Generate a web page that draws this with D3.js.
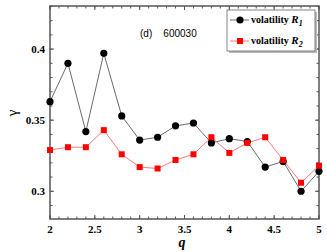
<!DOCTYPE html>
<html>
<head>
<meta charset="utf-8">
<script src="https://cdn.jsdelivr.net/npm/d3@7"></script>
<style>
body { margin: 0; background: #fff; }
</style>
</head>
<body>
<script>
// data
var qValues = [2, 2.2, 2.4, 2.6, 2.8, 3, 3.2, 3.4, 3.6, 3.8, 4, 4.2, 4.4, 4.6, 4.8, 5];
var gammaR1 = [0.363, 0.390, 0.342, 0.397, 0.353, 0.336, 0.338, 0.346, 0.348, 0.334, 0.337, 0.335, 0.317, 0.321, 0.300, 0.314];
var gammaR2 = [0.329, 0.331, 0.331, 0.343, 0.326, 0.317, 0.316, 0.322, 0.326, 0.338, 0.327, 0.334, 0.338, 0.322, 0.306, 0.318];
var xTicks = [2, 2.5, 3, 3.5, 4, 4.5, 5];
var yTicks = [0.3, 0.35, 0.4];
var legendLabels = ["R", "R"];
var legendSubs = ["1", "2"];

var W = 327, H = 252,
    padL = 50, padR = 319, padT = 6, padB = 219;   // plot box edges

var svg = d3.select("body").append("svg")
    .attr("width", W)
    .attr("height", H);

var x = d3.scaleLinear().domain([2, 5]).range([padL, padR]);
var y = d3.scaleLinear().domain([0.2805, 0.4303]).range([padB, padT]);

var frameColor = "#555";
var serif = "'Liberation Serif', 'DejaVu Serif', serif";

// minor + major ticks, pointing inward on all four sides
var xMinor = d3.range(2, 5.001, 0.1);
var yMinor = d3.range(0.29, 0.4301, 0.01);

function tickLines(g, vals, len, side) {
    var horiz = side == "b" || side == "t";
    g.selectAll(null).data(vals).enter().append("line")
        .attr("stroke", frameColor)
        .attr("stroke-width", 1)
        .attr("x1", d => horiz ? x(d) : (side == "l" ? padL : padR))
        .attr("x2", d => horiz ? x(d) : (side == "l" ? padL + len : padR - len))
        .attr("y1", d => !horiz ? y(d) : (side == "b" ? padB : padT))
        .attr("y2", d => !horiz ? y(d) : (side == "b" ? padB - len : padT + len));
}

var gt = svg.append("g");
tickLines(gt, xMinor, 2.5, "b");
tickLines(gt, xMinor, 2.5, "t");
tickLines(gt, xTicks, 4, "b");
tickLines(gt, xTicks, 4, "t");
tickLines(gt, yMinor, 2.5, "l");
tickLines(gt, yMinor, 2.5, "r");
tickLines(gt, yTicks, 4, "l");
tickLines(gt, yTicks, 4, "r");

// frame
svg.append("rect")
    .attr("x", padL).attr("y", padT)
    .attr("width", padR - padL).attr("height", padB - padT)
    .attr("fill", "none")
    .attr("stroke", frameColor)
    .attr("stroke-width", 1.5);

// tick labels
svg.append("g").selectAll("text").data(xTicks).enter().append("text")
    .attr("x", d => x(d))
    .attr("y", padB + 14)
    .attr("text-anchor", "middle")
    .attr("font-family", serif)
    .attr("font-weight", "bold")
    .attr("font-size", 11)
    .text(d => d);

svg.append("g").selectAll("text").data(yTicks).enter().append("text")
    .attr("x", padL - 5)
    .attr("y", d => y(d) + 4)
    .attr("text-anchor", "end")
    .attr("font-family", serif)
    .attr("font-weight", "bold")
    .attr("font-size", 11)
    .text(d => d);

// axis titles
svg.append("text")
    .attr("x", 182).attr("y", 247)
    .attr("text-anchor", "middle")
    .attr("font-family", serif)
    .attr("font-weight", "bold")
    .attr("font-style", "italic")
    .attr("font-size", 14)
    .text("q");

svg.append("text")
    .attr("transform", "translate(17,113) rotate(-90)")
    .attr("text-anchor", "middle")
    .attr("font-family", serif)
    .attr("font-size", 15)
    .text("γ");

// series
var line = d3.line().x((d, i) => x(qValues[i])).y(d => y(d));

svg.append("path").datum(gammaR1)
    .attr("d", line)
    .attr("fill", "none")
    .attr("stroke", "#444")
    .attr("stroke-width", 0.8);

svg.append("path").datum(gammaR2)
    .attr("d", line)
    .attr("fill", "none")
    .attr("stroke", "#f55")
    .attr("stroke-width", 0.8);

svg.append("g").selectAll("circle").data(gammaR1).enter().append("circle")
    .attr("cx", (d, i) => x(qValues[i]))
    .attr("cy", d => y(d))
    .attr("r", 3.6)
    .attr("fill", "#000");

svg.append("g").selectAll("rect").data(gammaR2).enter().append("rect")
    .attr("x", (d, i) => x(qValues[i]) - 3)
    .attr("y", d => y(d) - 3)
    .attr("width", 6).attr("height", 6)
    .attr("fill", "#f00");

// panel label
svg.append("text")
    .attr("x", 140).attr("y", 37)
    .attr("font-family", "'Liberation Sans', Arial, sans-serif")
    .attr("font-size", 10)
    .attr("xml:space", "preserve")
    .text("(d)    600030");

// legend
var lg = svg.append("g");
lg.append("rect")
    .attr("x", 229).attr("y", 12)
    .attr("width", 88).attr("height", 41)
    .attr("fill", "#bbb");
lg.append("rect")
    .attr("x", 227).attr("y", 10)
    .attr("width", 88).attr("height", 41)
    .attr("fill", "#fff")
    .attr("stroke", "#666")
    .attr("stroke-width", 0.8);

var rowsY = [20, 41];
var colors = ["#444", "#f55"];
rowsY.forEach(function(ry, i) {
    lg.append("line")
        .attr("x1", 230).attr("x2", 249)
        .attr("y1", ry).attr("y2", ry)
        .attr("stroke", colors[i])
        .attr("stroke-width", 0.8);
    if (i == 0) {
        lg.append("circle").attr("cx", 240).attr("cy", ry).attr("r", 3.6).attr("fill", "#000");
    } else {
        lg.append("rect").attr("x", 237).attr("y", ry - 3).attr("width", 6).attr("height", 6).attr("fill", "#f00");
    }
    var t = lg.append("text")
        .attr("x", 251).attr("y", ry + 3)
        .attr("font-family", serif)
        .attr("font-weight", "bold")
        .attr("font-size", 10);
    t.append("tspan").text("volatility ");
    t.append("tspan").attr("font-style", "italic").attr("font-size", 11).text(legendLabels[i]);
    t.append("tspan").attr("font-style", "italic").attr("font-size", 8).attr("dy", 3).text(legendSubs[i]);
});
</script>
</body>
</html>
